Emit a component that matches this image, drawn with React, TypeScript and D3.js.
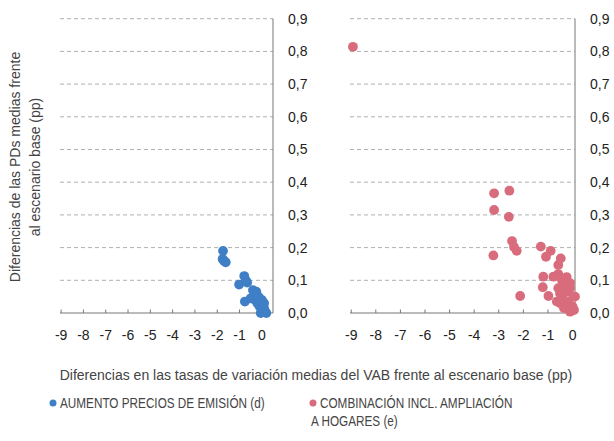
import React from "react";
import * as d3 from "d3";

const yTicks = [0, 0.1, 0.2, 0.3, 0.4, 0.5, 0.6, 0.7, 0.8, 0.9];
const xTicks = [-9, -8, -7, -6, -5, -4, -3, -2, -1, 0];

const blueSeries: [number, number][] = [
  [-1.74, 0.19], [-1.76, 0.165], [-1.62, 0.155], [-1.7, 0.16],
  [-0.79, 0.113], [-1.02, 0.087], [-0.66, 0.093], [-0.72, 0.1],
  [-0.76, 0.035], [-0.4, 0.07], [-0.25, 0.065], [-0.35, 0.055], [-0.5, 0.045],
  [-0.3, 0.04], [-0.15, 0.05], [-0.2, 0.03], [-0.05, 0.035], [0.0, 0.04],
  [-0.1, 0.02], [0.05, 0.025], [0.1, 0.015], [0.0, 0.01], [0.15, 0.005],
  [0.2, 0.0], [-0.05, 0.0], [0.1, 0.03],
];

const pinkSeries: [number, number][] = [
  [-8.93, 0.814], [-3.19, 0.366], [-2.57, 0.374], [-3.19, 0.315], [-2.59, 0.294],
  [-2.46, 0.22], [-2.38, 0.202], [-2.27, 0.19], [-3.22, 0.176], [-1.29, 0.203],
  [-0.89, 0.19], [-1.08, 0.172], [-0.48, 0.167], [-0.58, 0.147], [-1.19, 0.111],
  [-1.21, 0.079], [-2.13, 0.052], [-0.98, 0.052],
  [-0.78, 0.111], [-0.58, 0.119], [-0.24, 0.11], [-0.1, 0.091], [-0.37, 0.086],
  [-0.58, 0.076], [-0.51, 0.06], [-0.64, 0.035], [-0.24, 0.019], [-0.1, 0.004],
  [0.1, 0.05], [0.03, 0.05], [-0.1, 0.076], [-0.26, 0.064], [-0.43, 0.046],
  [-0.18, 0.034], [0.0, 0.02], [-0.35, 0.015], [0.06, 0.009], [-0.5, 0.03],
  [-0.22, 0.095], [-0.43, 0.1],
];

const seriesNames = ["AUMENTO PRECIOS DE EMISIÓN (d)", "COMBINACIÓN INCL. AMPLIACIÓN", "A HOGARES (e)"];
const yTitle = ["Diferencias de las PDs medias frente", "al escenario base (pp)"];
const xTitle = "Diferencias en las tasas de variación medias del VAB frente al escenario base (pp)";

const BLUE = "#3f7fc6";
const PINK = "#d96c7c";
const FONT = "'Liberation Sans', Arial, sans-serif";
const fmt = (v: number) => v.toFixed(1).replace(".", ",");

const yScale = d3.scaleLinear().domain([0, 0.9]).range([313, 18.7]);

function Panel({ data, color, xDomain, xRange }: { data: [number, number][]; color: string; xDomain: [number, number]; xRange: [number, number] }) {
  const x = d3.scaleLinear().domain(xDomain).range(xRange);
  const [x0, x1] = xRange;
  return (
    <g>
      {yTicks.filter((t) => t > 0).map((t) => (
        <line key={t} x1={x0} x2={x1} y1={yScale(t)} y2={yScale(t)} stroke="#b0b0b0" strokeDasharray="4,3" strokeWidth={1} />
      ))}
      <line x1={x0} x2={x1} y1={yScale(0)} y2={yScale(0)} stroke="#777" strokeWidth={1} />
      <line x1={x1} x2={x1} y1={yScale(0.9)} y2={yScale(0)} stroke="#777" strokeWidth={1} />
      {xTicks.map((t) => (
        <g key={t}>
          <line x1={x(t)} x2={x(t)} y1={yScale(0)} y2={yScale(0) - 3.5} stroke="#777" strokeWidth={1} />
          <text x={x(t)} y={yScale(0) + 27} textAnchor="middle" fontSize={14} fill="#222" fontFamily={FONT}>{t}</text>
        </g>
      ))}
      {yTicks.map((t) => (
        <text key={t} x={x1 + 15} y={yScale(t)} dy="0.35em" fontSize={14} fill="#222" fontFamily={FONT}>{fmt(t)}</text>
      ))}
      {data.map(([a, b], i) => (
        <circle key={i} cx={x(a)} cy={yScale(b)} r={4.9} fill={color} />
      ))}
    </g>
  );
}

export default function App() {
  return (
    <svg width={614} height={441} style={{ position: "absolute", left: 0, top: 0, background: "#fff" }}>
      <text transform="translate(20,167) rotate(-90)" textAnchor="middle" fontSize={14} fill="#444" fontFamily={FONT}>
        <tspan x={0} dy={0}>{yTitle[0]}</tspan>
        <tspan x={0} dy={20}>{yTitle[1]}</tspan>
      </text>
      <Panel data={blueSeries} color={BLUE} xDomain={[-9.05, 0.5]} xRange={[60, 273]} />
      <Panel data={pinkSeries} color={PINK} xDomain={[-9.05, 0.1]} xRange={[350, 575]} />
      <text x={316} y={380} textAnchor="middle" fontSize={14} fill="#444" fontFamily={FONT}>{xTitle}</text>
      <circle cx={53} cy={403} r={3.5} fill={BLUE} />
      <g transform="translate(60,408) scale(0.84,1)">
        <text x={0} y={0} fontSize={14} fill="#444" fontFamily={FONT}>{seriesNames[0]}</text>
      </g>
      <circle cx={313} cy={403} r={3.5} fill={PINK} />
      <g transform="translate(320,408) scale(0.84,1)">
        <text x={0} y={0} fontSize={14} fill="#444" fontFamily={FONT}>{seriesNames[1]}</text>
      </g>
      <g transform="translate(311,426) scale(0.84,1)">
        <text x={0} y={0} fontSize={14} fill="#444" fontFamily={FONT}>{seriesNames[2]}</text>
      </g>
    </svg>
  );
}
